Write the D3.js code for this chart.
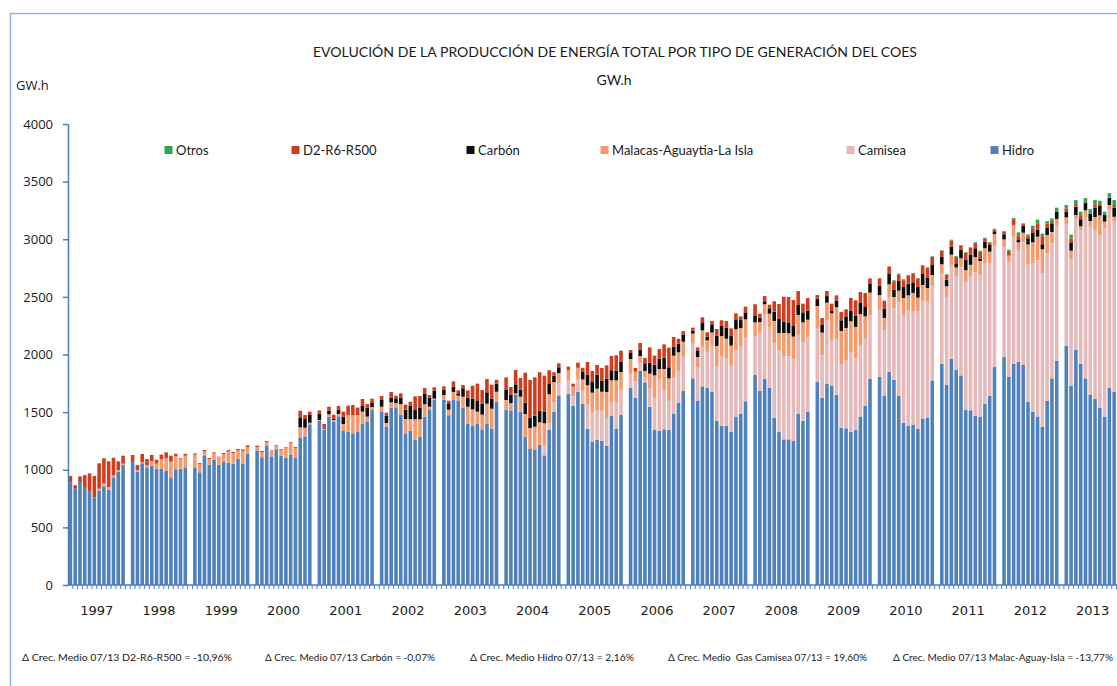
<!DOCTYPE html>
<html>
<head>
<meta charset="utf-8">
<script src="https://cdn.jsdelivr.net/npm/d3@7"></script>
<style>
  body { margin: 0; background: #fff; }
  svg text { fill: #1a1a1a; }
</style>
</head>
<body>
<div id="chart"></div>
<script>
// monthly production in GW.h, one row per year (1997 .. 2013, the last one up to November)
var years = [1997, 1998, 1999, 2000, 2001, 2002, 2003, 2004, 2005, 2006, 2007, 2008, 2009, 2010, 2011, 2012, 2013];

var hidro = [
    890, 836, 894, 850, 816, 761, 816, 856, 827, 931, 983, 1044,
    1076, 983, 1056, 1021, 1035, 1006, 1006, 989, 934, 1004, 1009, 1015,
    1021, 978, 1125, 1044, 1085, 1044, 1067, 1061, 1053, 1096, 1053, 1142,
    1166, 1108, 1206, 1116, 1177, 1122, 1105, 1131, 1102, 1281, 1290, 1394,
    1426, 1348, 1461, 1417, 1464, 1336, 1328, 1316, 1328, 1397, 1420, 1518,
    1501, 1371, 1539, 1541, 1478, 1316, 1339, 1261, 1284, 1461, 1524, 1608,
    1608, 1473, 1611, 1602, 1539, 1400, 1382, 1400, 1351, 1400, 1357, 1591,
    1521, 1515, 1649, 1504, 1287, 1180, 1174, 1215, 1125, 1345, 1501, 1646,
    1660, 1553, 1675, 1570, 1354, 1241, 1258, 1252, 1206, 1466, 1357, 1475,
    1712, 1623, 1857, 1758, 1547, 1345, 1336, 1351, 1345, 1487, 1582, 1686,
    1793, 1597, 1724, 1709, 1675, 1426, 1382, 1382, 1328, 1458, 1487, 1594,
    1822, 1686, 1787, 1712, 1449, 1328, 1264, 1264, 1249, 1484, 1423, 1504,
    1761, 1625, 1744, 1727, 1649, 1365, 1360, 1328, 1348, 1461, 1556, 1790,
    1805, 1640, 1848, 1781, 1640, 1406, 1382, 1391, 1354, 1444, 1449, 1775,
    1918, 1735, 1961, 1866, 1819, 1518, 1516, 1469, 1458, 1570, 1640, 1892,
    1978, 1805, 1918, 1935, 1909, 1591, 1504, 1461, 1374, 1597, 1793, 1946,
    2074, 1727, 2039, 1918, 1793, 1649, 1614, 1539, 1461, 1712, 1677
];

var camisea = [
    0, 0, 0, 0, 0, 0, 0, 0, 0, 0, 0, 0,
    0, 0, 0, 0, 0, 0, 0, 0, 0, 0, 0, 0,
    0, 0, 0, 0, 0, 0, 0, 0, 0, 0, 0, 0,
    0, 0, 0, 0, 0, 0, 0, 0, 0, 0, 0, 0,
    0, 0, 0, 0, 0, 0, 0, 0, 0, 0, 0, 0,
    0, 0, 0, 0, 0, 0, 0, 0, 0, 0, 0, 0,
    0, 0, 0, 0, 0, 0, 0, 0, 0, 0, 0, 0,
    0, 0, 0, 0, 0, 0, 0, 0, 90, 58, 87, 104,
    113, 87, 109, 116, 216, 254, 260, 260, 237, 122, 228, 226,
    122, 144, 67, 41, 162, 280, 451, 335, 252, 315, 275, 301,
    307, 292, 338, 313, 402, 474, 605, 585, 581, 578, 587, 552,
    333, 501, 562, 527, 651, 705, 723, 720, 712, 679, 685, 648,
    466, 368, 555, 399, 486, 553, 587, 688, 619, 621, 587, 553,
    581, 573, 651, 622, 816, 937, 998, 986, 1023, 1023, 1015, 826,
    789, 764, 816, 815, 938, 1109, 1165, 1244, 1232, 1224, 1154, 1058,
    955, 995, 1110, 966, 1064, 1188, 1287, 1356, 1331, 1281, 1172, 1178,
    1058, 1102, 1139, 1159, 1400, 1466, 1469, 1498, 1634, 1550, 1476
];

var malacas = [
    0, 0, 0, 0, 0, 0, 20, 26, 23, 21, 15, 9,
    0, 15, 11, 17, 41, 47, 84, 110, 136, 115, 87, 107,
    110, 69, 35, 49, 57, 64, 67, 99, 92, 72, 112, 55,
    29, 43, 35, 47, 32, 52, 84, 104, 87, 87, 75, 14,
    6, 9, 20, 15, 20, 61, 145, 159, 147, 107, 41, 26,
    46, 35, 46, 38, 92, 124, 101, 177, 154, 107, 23, 9,
    41, 48, 64, 41, 95, 147, 142, 104, 127, 173, 173, 86,
    84, 64, 14, 130, 197, 182, 200, 197, 188, 252, 173, 89,
    93, 81, 101, 98, 163, 174, 186, 165, 232, 188, 191, 147,
    127, 84, 63, 58, 125, 194, 87, 188, 196, 188, 162, 124,
    81, 89, 148, 101, 113, 174, 173, 170, 168, 183, 156, 159,
    124, 95, 87, 115, 191, 154, 200, 200, 194, 180, 171, 150,
    194, 197, 151, 231, 275, 286, 283, 272, 272, 269, 188, 194,
    130, 104, 110, 96, 98, 147, 133, 157, 116, 136, 113, 89,
    76, 93, 89, 74, 78, 104, 97, 133, 121, 128, 98, 95,
    66, 57, 96, 72, 84, 176, 182, 205, 208, 159, 98, 52,
    58, 72, 32, 35, 58, 43, 110, 170, 58, 35, 42
];

var carbon = [
    0, 0, 0, 0, 0, 0, 0, 0, 0, 0, 0, 0,
    0, 0, 0, 0, 0, 0, 0, 0, 0, 0, 0, 0,
    0, 0, 0, 0, 0, 0, 0, 0, 0, 0, 0, 0,
    0, 0, 0, 0, 0, 0, 0, 0, 0, 81, 75, 67,
    54, 8, 31, 11, 34, 64, 0, 0, 0, 49, 78, 35,
    58, 63, 40, 41, 53, 81, 116, 80, 98, 89, 76, 69,
    46, 56, 46, 20, 73, 78, 93, 98, 95, 99, 87, 70,
    87, 72, 78, 61, 98, 90, 95, 100, 98, 95, 55, 50,
    0, 0, 0, 64, 91, 98, 120, 93, 115, 87, 84, 90,
    52, 0, 55, 67, 95, 93, 90, 99, 96, 78, 75, 61,
    26, 58, 69, 32, 72, 89, 90, 96, 83, 80, 69, 61,
    61, 37, 26, 47, 80, 121, 98, 95, 92, 87, 87, 78,
    63, 66, 57, 20, 57, 93, 101, 92, 95, 96, 81, 80,
    81, 78, 90, 63, 84, 96, 101, 92, 93, 96, 87, 87,
    67, 57, 69, 30, 72, 93, 90, 76, 18, 57, 58, 24,
    44, 0, 0, 26, 61, 53, 81, 61, 44, 64, 75, 63,
    49, 72, 72, 61, 66, 64, 81, 81, 57, 61, 79
];

var d2r6 = [
    55, 29, 49, 104, 153, 185, 220, 217, 223, 153, 75, 69,
    52, 43, 70, 55, 52, 34, 41, 52, 52, 20, 6, 17,
    11, 11, 11, 9, 9, 5, 11, 11, 9, 12, 12, 14,
    14, 12, 8, 5, 6, 6, 6, 6, 8, 63, 35, 29,
    29, 32, 35, 35, 35, 43, 83, 87, 64, 61, 31, 38,
    35, 26, 50, 23, 40, 44, 35, 119, 104, 52, 26, 29,
    29, 22, 46, 26, 28, 64, 112, 145, 119, 115, 121, 34,
    110, 67, 125, 101, 260, 327, 333, 334, 315, 113, 30, 35,
    29, 26, 44, 37, 111, 90, 85, 113, 116, 124, 133, 95,
    26, 32, 58, 46, 133, 78, 84, 115, 170, 84, 43, 31,
    26, 26, 44, 38, 29, 58, 47, 58, 67, 58, 32, 49,
    96, 35, 45, 31, 91, 130, 217, 220, 226, 121, 75, 110,
    32, 61, 44, 64, 46, 72, 61, 110, 136, 95, 122, 44,
    64, 72, 66, 74, 56, 59, 67, 74, 72, 72, 86, 69,
    51, 41, 55, 64, 37, 59, 56, 45, 66, 29, 20, 17,
    21, 40, 50, 35, 14, 25, 40, 56, 70, 33, 20, 8,
    29, 35, 23, 29, 5, 5, 29, 17, 0, 3, 23
];

var otros = [
    0, 0, 0, 0, 0, 0, 0, 0, 0, 0, 0, 0,
    0, 0, 0, 0, 0, 0, 0, 0, 0, 0, 0, 0,
    0, 0, 0, 0, 0, 0, 0, 0, 0, 0, 0, 0,
    0, 0, 0, 0, 0, 0, 0, 0, 0, 0, 0, 0,
    0, 0, 0, 0, 0, 0, 0, 0, 0, 0, 0, 0,
    0, 0, 0, 0, 0, 0, 0, 0, 0, 0, 0, 0,
    0, 0, 0, 0, 0, 0, 0, 0, 0, 0, 0, 0,
    0, 0, 0, 0, 0, 0, 0, 0, 0, 0, 0, 0,
    0, 0, 0, 0, 0, 0, 0, 0, 0, 0, 0, 0,
    0, 0, 0, 0, 0, 0, 0, 0, 0, 0, 0, 0,
    0, 0, 0, 0, 0, 0, 0, 0, 0, 0, 0, 0,
    0, 0, 0, 0, 0, 0, 0, 0, 0, 0, 0, 0,
    0, 0, 0, 0, 0, 0, 0, 0, 0, 0, 0, 0,
    0, 0, 0, 8, 8, 8, 8, 8, 6, 6, 6, 6,
    6, 6, 6, 6, 6, 6, 6, 6, 6, 6, 6, 6,
    8, 12, 10, 26, 6, 10, 24, 31, 22, 24, 23, 27,
    29, 32, 35, 37, 35, 35, 37, 29, 29, 40, 43
];

// stacking order bottom -> top, legend order is the reverse
var seriesKeys = ["hidro", "camisea", "malacas", "carbon", "d2r6", "otros"];
var seriesNames = ["Hidro", "Camisea", "Malacas-Aguaytia-La Isla", "Carbón", "D2-R6-R500", "Otros"];
var seriesColors = ["#4f81bd", "#e6b9b8", "#f59a6c", "#0d0d0d", "#d23c1e", "#2ea84f"];

var yTicks = [0, 500, 1000, 1500, 2000, 2500, 3000, 3500, 4000];

var notes = [
    "\u0394 Crec. Medio 07/13 D2-R6-R500 = -10,96%",
    "\u0394 Crec. Medio 07/13 Carbón = -0,07%",
    "\u0394 Crec. Medio Hidro 07/13 = 2,16%",
    "\u0394 Crec. Medio  Gas Camisea 07/13 = 19,60%",
    "\u0394 Crec. Medio 07/13 Malac-Aguay-Isla = -13,77%"
];

var WIDTH = 1117, HEIGHT = 686;
var AXIS_BLUE = "#4a7ebb";

// build category list: 12 months per year plus an empty slot between years
var categories = [];
years.forEach(function (yr, i) {
    for (var m = 0; m < 12; m++) categories.push(yr + "-" + m);
    if (i < years.length - 1) categories.push("gap-" + yr);
});

var rows = [];
years.forEach(function (yr, i) {
    for (var m = 0; m < 12; m++) {
        var k = i * 12 + m;
        if (k >= hidro.length) break;
        rows.push({
            cat: yr + "-" + m,
            hidro: hidro[k], camisea: camisea[k], malacas: malacas[k],
            carbon: carbon[k], d2r6: d2r6[k], otros: otros[k]
        });
    }
});

var step = 4.788;
var x = d3.scaleBand()
    .domain(categories)
    .range([68, 68 + step * categories.length])
    .paddingInner(0.25)
    .paddingOuter(0.125);

var y = d3.scaleLinear().domain([0, 4000]).range([585, 124]);

var svg = d3.select("#chart").append("svg")
    .attr("width", WIDTH)
    .attr("height", HEIGHT)
    .style("font-family", "'Open Sans', sans-serif");

// frame lines on the left and top
svg.append("path")
    .attr("d", "M10.5," + HEIGHT + "V13.5H" + WIDTH)
    .attr("fill", "none")
    .attr("stroke", "#95b3d7")
    .attr("stroke-width", 1.5);

// title
svg.append("text")
    .attr("x", 615).attr("y", 57)
    .attr("text-anchor", "middle")
    .attr("textLength", 604)
    .attr("lengthAdjust", "spacingAndGlyphs")
    .style("font-family", "Lato, sans-serif")
    .style("font-size", "14px")
    .text("EVOLUCIÓN DE LA PRODUCCIÓN DE ENERGÍA TOTAL POR TIPO DE GENERACIÓN DEL COES");

svg.append("text")
    .attr("x", 614).attr("y", 85)
    .attr("text-anchor", "middle")
    .style("font-family", "Lato, sans-serif")
    .style("font-size", "14px")
    .text("GW.h");

svg.append("text")
    .attr("x", 16).attr("y", 90)
    .style("font-size", "13px")
    .text("GW.h");

// bars
var stack = d3.stack().keys(seriesKeys);
var layers = stack(rows);

var bars = svg.append("g").attr("id", "bars");
bars.selectAll("g")
    .data(layers)
    .enter().append("g")
    .attr("fill", function (d, i) { return seriesColors[i]; })
    .selectAll("rect")
    .data(function (d) { return d; })
    .enter().append("rect")
    .attr("x", function (d) { return x(d.data.cat); })
    .attr("width", x.bandwidth())
    .attr("y", function (d) { return y(d[1]); })
    .attr("height", function (d) { return Math.max(0, y(d[0]) - y(d[1])); });

// y axis
var yAxis = svg.append("g")
    .attr("transform", "translate(68,0)")
    .call(d3.axisLeft(y).tickValues(yTicks).tickFormat(d3.format("d"))
        .tickSize(5).tickPadding(10).tickSizeOuter(0));
yAxis.select(".domain").attr("stroke", AXIS_BLUE).attr("stroke-width", 1.5);
yAxis.selectAll(".tick line").attr("stroke", AXIS_BLUE).attr("stroke-width", 1.5);
yAxis.selectAll(".tick text")
    .style("font-size", "13px")
    .style("font-family", "'Open Sans', sans-serif")
    .attr("fill", "#1a1a1a");

// x axis: baseline with a small tick at every category boundary
var xAxis = svg.append("g").attr("id", "xaxis");
xAxis.append("line")
    .attr("x1", 68).attr("x2", WIDTH)
    .attr("y1", y(0)).attr("y2", y(0))
    .attr("stroke", AXIS_BLUE).attr("stroke-width", 1.5);

xAxis.selectAll("line.tick")
    .data(categories)
    .enter().append("line")
    .attr("class", "tick")
    .attr("x1", function (c) { return x(c) + x.bandwidth() + (x.step() - x.bandwidth()) / 2; })
    .attr("x2", function (c) { return x(c) + x.bandwidth() + (x.step() - x.bandwidth()) / 2; })
    .attr("y1", y(0)).attr("y2", y(0) + 4)
    .attr("stroke", AXIS_BLUE).attr("stroke-width", 1);

xAxis.selectAll("text")
    .data(years)
    .enter().append("text")
    .attr("x", function (yr) { return (x(yr + "-0") + x(yr + "-11") + x.bandwidth()) / 2; })
    .attr("y", 615)
    .attr("text-anchor", "middle")
    .style("font-family", "'DejaVu Sans', sans-serif")
    .style("font-size", "13px")
    .text(function (yr) { return yr; });

// legend
var legendX = [1002, 858, 612, 478, 303, 176];
var legend = svg.append("g").attr("id", "legend");
seriesKeys.forEach(function (k, i) {
    legend.append("rect")
        .attr("x", legendX[i] - 11.5).attr("y", 146)
        .attr("width", 8).attr("height", 8)
        .attr("fill", seriesColors[i]);
    legend.append("text")
        .attr("x", legendX[i]).attr("y", 155)
        .style("font-family", "Lato, sans-serif")
        .style("font-size", "13px")
        .text(seriesNames[i]);
});

// notes under the chart
var noteX = [22, 265, 470, 668, 893];
var noteW = [210, 170, 164, 199, 220];
svg.append("g").selectAll("text")
    .data(notes)
    .enter().append("text")
    .attr("x", function (d, i) { return noteX[i]; })
    .attr("y", 661)
    .attr("textLength", function (d, i) { return noteW[i]; })
    .attr("lengthAdjust", "spacingAndGlyphs")
    .style("white-space", "pre")
    .style("font-family", "Lato, sans-serif")
    .style("font-size", "10px")
    .text(function (d) { return d; });
</script>
</body>
</html>
